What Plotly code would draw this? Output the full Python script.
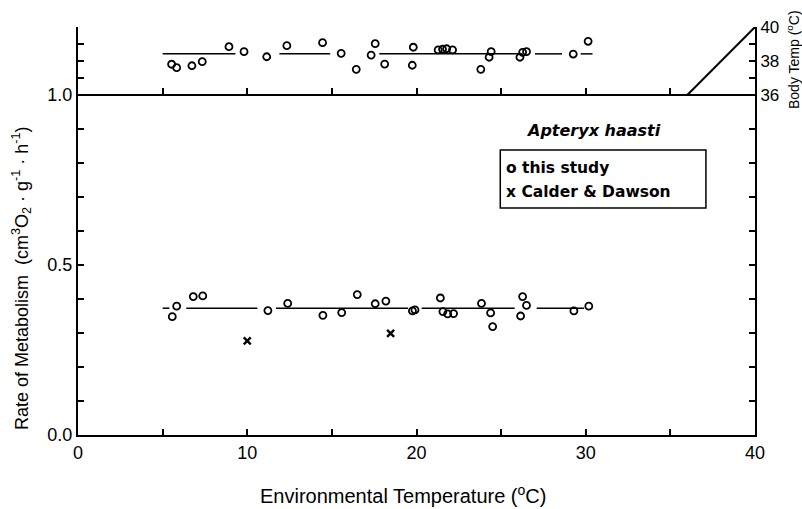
import plotly.graph_objects as go

# ---------------- data ----------------
# Body temperature (upper panel), this study
bt_x = [5.53, 5.83, 6.73, 7.34, 8.92, 9.81, 11.15, 12.34, 14.45, 15.55, 16.44, 17.32, 17.56,
        18.12, 19.75, 19.81, 21.28, 21.54, 21.78, 22.13, 23.80, 24.29, 24.41, 26.11, 26.27,
        26.50, 29.26, 30.14]
bt_y = [37.81, 37.61, 37.72, 37.96, 38.84, 38.55, 38.25, 38.90, 39.08, 38.45, 37.51, 38.35, 39.02,
        37.82, 37.75, 38.81, 38.65, 38.69, 38.72, 38.65, 37.51, 38.22, 38.55, 38.22, 38.51,
        38.55, 38.41, 39.16]
bt_mean = 38.42
bt_mean_segments = [(5.0, 9.3), (11.9, 14.9), (17.8, 26.1), (27.0, 28.6), (29.7, 30.4)]

# Metabolic rate (lower panel), this study
mr_x = [5.57, 5.83, 6.81, 7.37, 11.22, 12.39, 14.47, 15.58, 16.50, 17.56, 18.19, 19.76, 19.91,
        21.41, 21.56, 21.84, 22.19, 23.84, 24.38, 24.50, 26.15, 26.27, 26.50, 29.30, 30.18]
mr_y = [0.348, 0.379, 0.407, 0.409, 0.366, 0.387, 0.352, 0.360, 0.413, 0.386, 0.394, 0.365, 0.368,
        0.403, 0.363, 0.356, 0.357, 0.387, 0.359, 0.319, 0.350, 0.407, 0.381, 0.365, 0.379]
mr_mean = 0.373
mr_mean_segments = [(5.0, 5.4), (6.4, 10.6), (11.7, 19.5), (20.3, 25.8), (27.1, 29.9)]

# Calder & Dawson
cd_x = [10.0, 18.47]
cd_y = [0.277, 0.299]

# Tb = Ta line
iso_x = [36, 40]
iso_y = [36, 40]

# axes ticks
x_labels = [0, 10, 20, 30, 40]
x_minor = [5, 15, 25, 35]
x_mid_ticks = [5, 10, 15, 20, 25, 30, 35]
y_labels = [0.0, 0.5, 1.0]
y_minor = [0.1, 0.2, 0.3, 0.4, 0.6, 0.7, 0.8, 0.9, 1.05, 1.1, 1.15, 1.2]
t_labels = [36, 38, 40]
t_minor = [18, 20, 22, 24, 26, 28, 30, 32, 34, 37, 39]

# ---------------- figure ----------------
FONT = "Liberation Sans, Arial, sans-serif"
fig = go.Figure()


def seg_xy(segs, val):
    xs, ys = [], []
    for a, b in segs:
        xs += [a, b, None]
        ys += [val, val, None]
    return xs, ys


sx, sy = seg_xy(mr_mean_segments, mr_mean)
fig.add_trace(go.Scatter(x=sx, y=sy, mode="lines", line=dict(color="black", width=1.5),
                         yaxis="y", hoverinfo="skip"))
tx, ty = seg_xy(bt_mean_segments, bt_mean)
fig.add_trace(go.Scatter(x=tx, y=ty, mode="lines", line=dict(color="black", width=1.5),
                         yaxis="y2", hoverinfo="skip"))

fig.add_trace(go.Scatter(x=mr_x, y=mr_y, mode="markers", yaxis="y",
                         marker=dict(symbol="circle-open", size=7, color="black",
                                     line=dict(width=1.8, color="black"))))
fig.add_trace(go.Scatter(x=bt_x, y=bt_y, mode="markers", yaxis="y2",
                         marker=dict(symbol="circle-open", size=7, color="black",
                                     line=dict(width=1.8, color="black"))))
fig.add_trace(go.Scatter(x=cd_x, y=cd_y, mode="markers", yaxis="y",
                         marker=dict(symbol="x-thin-open", size=7, color="black",
                                     line=dict(width=2.3, color="black"))))
fig.add_trace(go.Scatter(x=iso_x, y=iso_y, mode="lines", yaxis="y2",
                         line=dict(color="black", width=2)))
# invisible trace to activate x2 axis
fig.add_trace(go.Scatter(x=[0, 40], y=[1.0, 1.0], xaxis="x2", yaxis="y", mode="lines",
                         line=dict(color="black", width=0), hoverinfo="skip"))

tick_style = dict(ticks="inside", tickcolor="black", tickwidth=1.5, ticklen=6)
axis_common = dict(showgrid=False, zeroline=False, showline=True, linecolor="black",
                   linewidth=2, automargin=False, tickmode="array", **tick_style,
                   tickfont=dict(family=FONT, size=18, color="black"))

fig.update_layout(
    template="none",
    width=802, height=509,
    margin=dict(l=78, r=47, t=27, b=74, pad=0),
    paper_bgcolor="white", plot_bgcolor="white",
    showlegend=False,
    xaxis=dict(range=[0, 40], tickvals=x_labels, ticktext=[str(v) for v in x_labels],
               minor=dict(tickmode="array", tickvals=x_minor, **tick_style),
               **axis_common),
    xaxis2=dict(range=[0, 40], overlaying="x", side="top", anchor="free",
                position=1.0 / 1.2, showgrid=False, zeroline=False, showline=True,
                linecolor="black", linewidth=2, ticks="outside", tickcolor="black",
                tickwidth=1.5, ticklen=6, tickmode="array", tickvals=x_mid_ticks,
                showticklabels=False, automargin=False),
    yaxis=dict(range=[0, 1.2], tickvals=y_labels, ticktext=[f"{v:.1f}" for v in y_labels],
               minor=dict(tickmode="array", tickvals=y_minor, **tick_style),
               **axis_common),
    yaxis2=dict(range=[16, 40], overlaying="y", side="right",
                tickvals=t_labels, ticktext=[str(v) for v in t_labels],
                minor=dict(tickmode="array", tickvals=t_minor, **tick_style),
                **{**axis_common, "tickfont": dict(family=FONT, size=17, color="black")}),
)

# legend box
fig.add_shape(type="rect", xref="x", yref="y", x0=24.95, x1=37.1, y0=0.668, y1=0.838,
              line=dict(color="black", width=1.5), fillcolor="rgba(0,0,0,0)")
fig.add_annotation(xref="x", yref="y", x=30.45, y=0.897, text="<b><i>Apteryx haasti</i></b>",
                   showarrow=False, font=dict(family="DejaVu Sans", size=16, color="black"),
                   xanchor="center", yanchor="middle")
fig.add_annotation(xref="x", yref="y", x=25.15, y=0.786, text="<b>o this study</b>",
                   showarrow=False, font=dict(family="DejaVu Sans", size=15.5, color="black"),
                   xanchor="left", yanchor="middle")
fig.add_annotation(xref="x", yref="y", x=25.15, y=0.714, text="<b>x Calder &amp; Dawson</b>",
                   showarrow=False, font=dict(family="DejaVu Sans", size=15.5, color="black"),
                   xanchor="left", yanchor="middle")

# axis titles
fig.add_annotation(xref="paper", yref="paper", x=(403 - 78) / 677, y=(435 - 494) / 408,
                   text="Environmental Temperature (<sup>o</sup>C)", showarrow=False,
                   font=dict(family=FONT, size=20, color="black"),
                   xanchor="center", yanchor="middle")
fig.add_annotation(xref="paper", yref="paper", x=(21 - 78) / 677, y=(435 - 278) / 408,
                   text="Rate of Metabolism  (cm<sup>3</sup>O<sub>2</sub> · g<sup>-1</sup> · h<sup>-1</sup>)",
                   showarrow=False, textangle=-90,
                   font=dict(family=FONT, size=18, color="black"),
                   xanchor="center", yanchor="middle")
fig.add_annotation(xref="paper", yref="paper", x=(793 - 78) / 677, y=(435 - 60) / 408,
                   text="Body Temp (<sup>o</sup>C)", showarrow=False, textangle=-90,
                   font=dict(family=FONT, size=14, color="black"),
                   xanchor="center", yanchor="middle")

fig.write_html("out.html")
